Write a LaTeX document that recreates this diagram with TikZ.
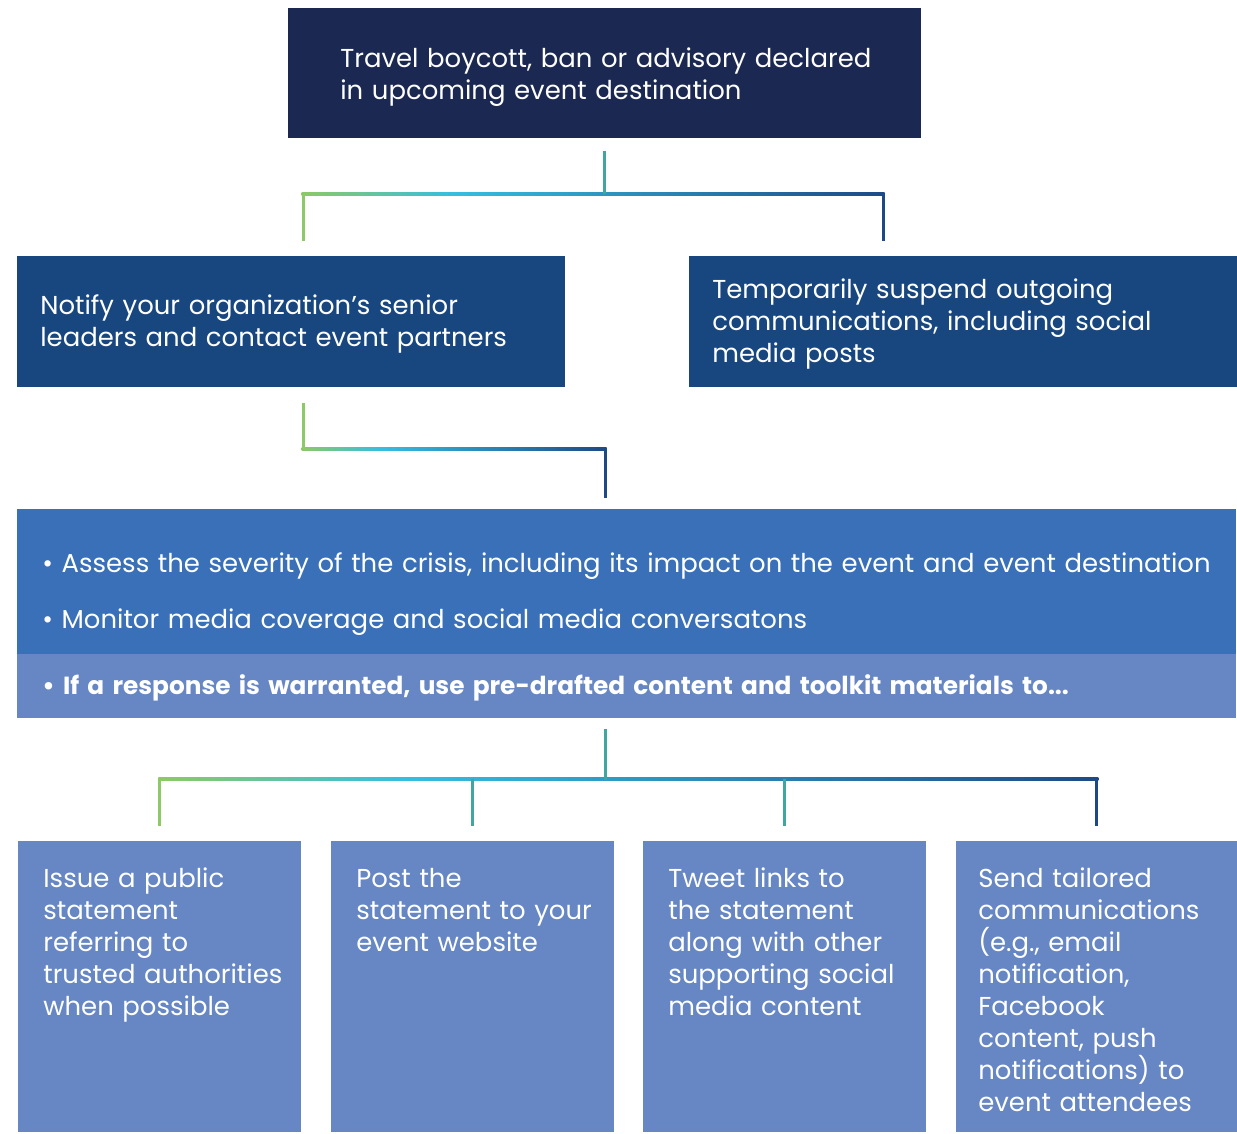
\documentclass[tikz,border=0pt]{standalone}
\usepackage{fontspec}
\setmainfont{Poppins}
\usetikzlibrary{calc}
\definecolor{topnavy}{HTML}{1B2952}
\definecolor{stepblue}{HTML}{18467F}
\definecolor{assessblue}{HTML}{3A70B7}
\definecolor{leafblue}{HTML}{6687C3}
\definecolor{linegreen}{HTML}{8DC964}
\definecolor{linecyan}{HTML}{35BEE0}
\definecolor{linedark}{HTML}{1D4A87}
\definecolor{lineteal}{HTML}{3FA6A0}
\pgfdeclarehorizontalshading{forkshade}{100bp}{color(0bp)=(linegreen); color(25bp)=(linegreen);
  color(38bp)=(linecyan); color(75bp)=(linedark); color(100bp)=(linedark)}
\hyphenpenalty=10000

\begin{document}
\begin{tikzpicture}[
  x=0.02cm, y=-0.02cm,
  every node/.style={font=\fontsize{14.75}{18.2}\selectfont,text=white,align=left,
    anchor=north west,inner ysep=0pt},
  topbox/.style={fill=topnavy,inner xsep=1.04cm,text width=10.58cm},
  stepbox/.style={fill=stepblue,inner xsep=0.46cm,text width=10.04cm},
  assessbox/.style={fill=assessblue,inner xsep=0.5cm,text width=23.38cm,text height=1.26cm,text depth=1.64cm},
  warrantbar/.style={fill=leafblue,inner xsep=0.5cm,text width=23.38cm,text height=0.8cm,text depth=0.48cm,
    font=\fontsize{14.1}{18.2}\selectfont\bfseries},
  leafbox/.style={fill=leafblue,inner xsep=0.5cm,text width=4.66cm,text height=0.92cm,text depth=4.9cm},
  conn/.style={line width=0.06cm}
]
  \useasboundingbox (0,0) rectangle (1237,1133);

  % boxes
  \node[topbox,text height=1.18cm,text depth=1.42cm] (declared) at (288,8)
    {\mbox{Travel boycott, ban or advisory declared}\\in upcoming event destination};
  \node[stepbox,text height=1.16cm,text depth=1.46cm] (notify) at (17,256)
    {Notify your organization’s senior\\leaders and contact event partners};
  \node[stepbox,text height=0.84cm,text depth=1.78cm] (suspend) at (689,256)
    {Temporarily suspend outgoing\\communications, including social\\media posts};
  \node[assessbox] (assess) at (17,509)
    {\textbullet\ Assess the severity of the crisis, including its impact on the event and event~destination\\[0.48cm]
     \textbullet\ Monitor media coverage and social media conversatons};
  \node[warrantbar] (warrant) at (17,654)
    {\textbullet\ If a response is warranted, use pre-drafted content and toolkit materials to...};
  \node[leafbox] (issue) at (18,841)
    {Issue a public\\statement\\referring to\\trusted~authorities\\when possible};
  \node[leafbox] (post) at (331,841)
    {Post the\\statement~to~your\\event website};
  \node[leafbox] (tweet) at (643,841)
    {Tweet links to\\the statement\\along~with~other\\supporting~social\\media content};
  \node[leafbox,inner xsep=0.44cm,text width=4.74cm] (send) at (956,841)
    {Send tailored\\communications\\(e.g., email\\notification,\\Facebook\\content, push\\notifications)~to\\event attendees};

  % fork under the declaration
  \coordinate (forkL) at ($(notify.north west)+(286,-62)$);
  \coordinate (forkR) at ($(suspend.north west)+(194,-62)$);
  \shade[shading=forkshade] ($(forkL)+(-1.5,-1.5)$) rectangle ($(forkR)+(1.5,1.5)$);
  \draw[conn,lineteal] ($(declared.south)+(0,12)$) -- (declared.south |- forkL);
  \draw[conn,linegreen] (forkL) -- ($(notify.north west)+(286,-15)$);
  \draw[conn,linedark] (forkR) -- ($(suspend.north west)+(194,-15)$);

  % notify down to assess
  \coordinate (bendL) at ($(notify.south west)+(286,61)$);
  \coordinate (bendR) at ($(notify.south west)+(588,61)$);
  \shade[shading=forkshade] ($(bendL)+(-1.5,-1.5)$) rectangle ($(bendR)+(1.5,1.5)$);
  \draw[conn,linegreen] ($(notify.south west)+(286,15)$) -- (bendL);
  \draw[conn,linedark] (bendR) -- ($(assess.north west)+(588,-11)$);

  % fork to the four actions
  \coordinate (leafL) at ($(issue.north)+(0,-62)$);
  \coordinate (leafR) at ($(send.north)+(0,-62)$);
  \shade[shading=forkshade] ($(leafL)+(-1.5,-1.5)$) rectangle ($(leafR)+(1.5,1.5)$);
  \draw[conn,lineteal] ($(warrant.south west)+(588,10)$) -- ($(warrant.south west)+(588,61)$);
  \foreach \leaf/\col in {issue/linegreen,post/lineteal,tweet/lineteal,send/linedark}
    \draw[conn,\col] ($(\leaf.north)+(0,-62)$) -- ($(\leaf.north)+(0,-15)$);
\end{tikzpicture}
\end{document}
